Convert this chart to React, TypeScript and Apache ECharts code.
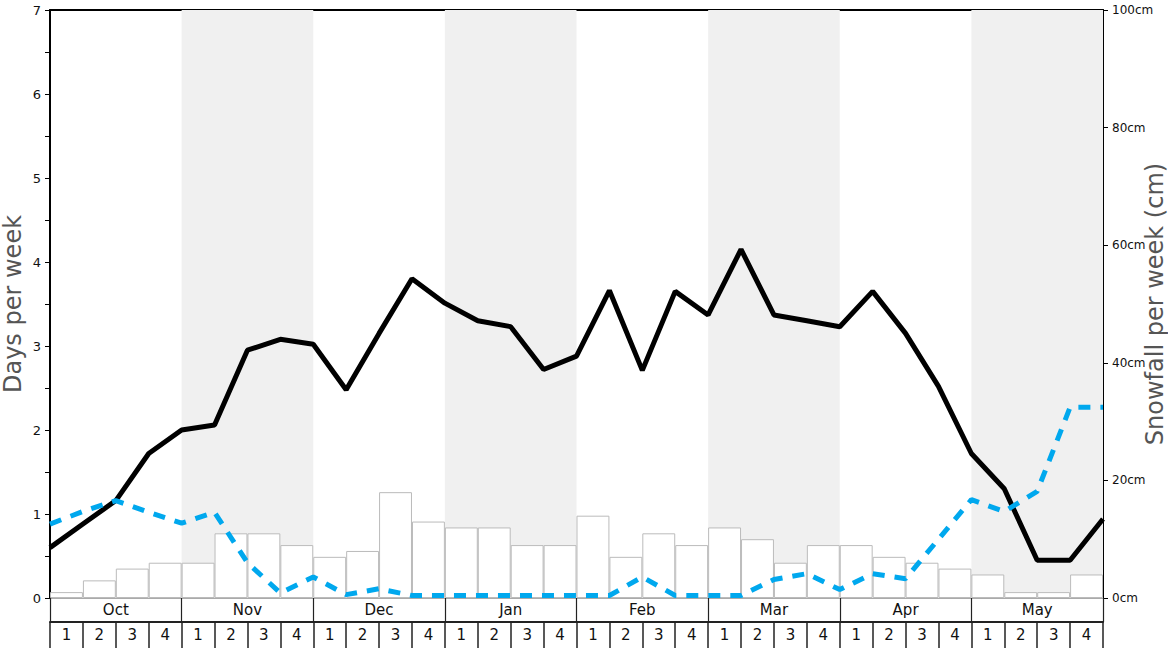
import React, { useEffect, useRef } from "react";
import * as echarts from "echarts";

const months = ["Oct", "Nov", "Dec", "Jan", "Feb", "Mar", "Apr", "May"];
const weekLabels = [
  "1", "2", "3", "4", "1", "2", "3", "4", "1", "2", "3", "4", "1", "2", "3", "4",
  "1", "2", "3", "4", "1", "2", "3", "4", "1", "2", "3", "4", "1", "2", "3", "4",
];
// 33 boundary points (start of each week + end of last week)
const pointLabels = [
  "0", "1", "2", "3", "4", "5", "6", "7", "8", "9", "10", "11", "12", "13", "14", "15", "16",
  "17", "18", "19", "20", "21", "22", "23", "24", "25", "26", "27", "28", "29", "30", "31", "32",
];
// weekly snowfall (cm), right axis
const snowfallCm = [
  1, 3, 5, 6, 6, 11, 11, 9, 7, 8, 18, 13, 12, 12, 9, 9,
  14, 7, 11, 9, 12, 10, 6, 9, 9, 7, 6, 5, 4, 1, 1, 4,
];
// days per week, solid black line
const blackDays = [
  0.6, 0.88, 1.16, 1.72, 2.0, 2.06, 2.95, 3.08, 3.02, 2.48, 3.15, 3.8, 3.51, 3.3, 3.23, 2.72,
  2.88, 3.66, 2.71, 3.65, 3.37, 4.15, 3.37, 3.3, 3.23, 3.65, 3.15, 2.52, 1.72, 1.3, 0.45, 0.45, 0.94,
];
// days per week, dashed blue line
const blueDays = [
  0.88, 1.03, 1.16, 1.02, 0.89, 1.02, 0.42, 0.06, 0.25, 0.04, 0.11, 0.03, 0.03, 0.03, 0.03, 0.03,
  0.03, 0.03, 0.25, 0.03, 0.03, 0.03, 0.22, 0.29, 0.1, 0.29, 0.23, 0.7, 1.17, 1.03, 1.27, 2.27, 2.27,
];
// shaded month bands (boundary indices)
const shadedBands: [number, number][] = [
  [4, 8],
  [12, 16],
  [20, 24],
  [28, 32],
];

const FONT = "DejaVu Sans";

export default function App() {
  const ref = useRef<HTMLDivElement>(null);
  useEffect(() => {
    if (!ref.current) return;
    const chart = echarts.init(ref.current, null, { renderer: "svg" });
    chart.setOption({
      animation: false,
      backgroundColor: "#fff",
      grid: {
        left: 50,
        right: 65,
        top: 10,
        bottom: 50,
        containLabel: false,
        outerBoundsMode: "none",
      },
      xAxis: [
        {
          type: "category",
          data: weekLabels,
          position: "bottom",
          offset: 24,
          boundaryGap: true,
          axisLine: { show: true, onZero: false, lineStyle: { color: "#222", width: 2 } },
          axisTick: { show: true, interval: 0, length: 26, lineStyle: { color: "#222", width: 1.5 } },
          axisLabel: { interval: 0, margin: 5, fontSize: 15, color: "#111", fontFamily: FONT },
          splitLine: { show: false },
        },
        {
          type: "category",
          data: months,
          position: "bottom",
          offset: 0,
          boundaryGap: true,
          axisLine: { show: true, onZero: false, lineStyle: { color: "#aaa", width: 1 } },
          axisTick: { show: true, interval: 0, length: 24, lineStyle: { color: "#222", width: 1.2 } },
          axisLabel: { interval: 0, margin: 4, fontSize: 15, color: "#111", fontFamily: FONT },
          splitLine: { show: false },
        },
        {
          type: "category",
          data: pointLabels,
          position: "top",
          boundaryGap: false,
          axisLine: { show: true, onZero: false, lineStyle: { color: "#000", width: 2 } },
          axisTick: { show: false },
          axisLabel: { show: false },
          splitLine: { show: false },
        },
      ],
      yAxis: [
        {
          type: "value",
          position: "left",
          min: 0,
          max: 7,
          interval: 0.5,
          name: "Days per week",
          nameLocation: "middle",
          nameRotate: 90,
          nameGap: 25,
          nameMoveOverlap: false,
          nameTextStyle: { fontSize: 24, lineHeight: 24, color: "#555", fontFamily: FONT },
          axisLine: { show: true, lineStyle: { color: "#000", width: 2 } },
          axisTick: { show: true, length: 5, lineStyle: { color: "#000", width: 1 } },
          axisLabel: {
            margin: 9,
            fontSize: 13,
            color: "#111",
            fontFamily: FONT,
            formatter: (v: number) => (Number.isInteger(v) ? String(v) : ""),
          },
          splitLine: { show: false },
        },
        {
          type: "value",
          position: "right",
          min: 0,
          max: 100,
          interval: 20,
          name: "Snowfall per week (cm)",
          nameLocation: "middle",
          nameRotate: 90,
          nameGap: 40,
          nameMoveOverlap: false,
          nameTextStyle: { fontSize: 24, lineHeight: 24, color: "#555", fontFamily: FONT },
          axisLine: { show: true, lineStyle: { color: "#000", width: 2 } },
          axisTick: { show: true, length: 5, lineStyle: { color: "#000", width: 1 } },
          axisLabel: { margin: 9, fontSize: 12, color: "#111", fontFamily: FONT, formatter: "{value}cm" },
          splitLine: { show: false },
        },
      ],
      series: [
        {
          name: "Snowfall",
          type: "bar",
          xAxisIndex: 0,
          yAxisIndex: 1,
          data: snowfallCm,
          barCategoryGap: "0%",
          itemStyle: { color: "#fff", borderColor: "#bbb", borderWidth: 1 },
          z: 2,
        },
        {
          name: "Days A",
          type: "line",
          xAxisIndex: 2,
          yAxisIndex: 0,
          data: blackDays,
          symbol: "none",
          lineStyle: { color: "#000", width: 5 },
          z: 3,
          markArea: {
            silent: true,
            label: { show: false },
            itemStyle: { color: "#f0f0f0", borderWidth: 0 },
            data: shadedBands.map(([a, b]) => [{ xAxis: a }, { xAxis: b }]),
          },
        },
        {
          name: "Days B",
          type: "line",
          xAxisIndex: 2,
          yAxisIndex: 0,
          data: blueDays,
          symbol: "none",
          lineStyle: { color: "#00a8ee", width: 5, type: [12, 10] },
          z: 4,
        },
      ],
    });
    return () => chart.dispose();
  }, []);
  return (
    <div
      ref={ref}
      style={{ position: "fixed", left: 0, top: 0, width: 1168, height: 648 }}
    />
  );
}
